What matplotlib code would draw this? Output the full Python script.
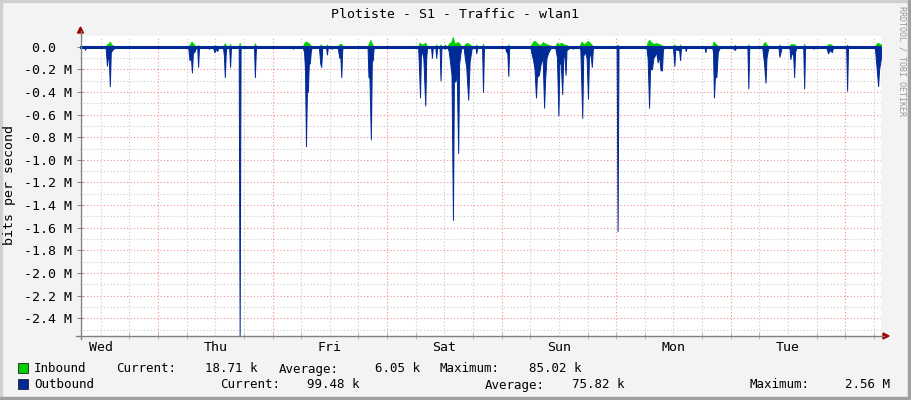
import matplotlib
matplotlib.use('Agg')
import matplotlib.pyplot as plt
from matplotlib.patches import Rectangle, Polygon
from matplotlib.lines import Line2D
import numpy as np

plt.rcParams['font.family'] = 'DejaVu Sans Mono'

# hours since Wed 00:00, traffic in Mbit/s (outbound drawn below zero)
out_hours = [7.7,
             8.5, 8.7, 8.9, 11.2, 11.4, 11.6,
             13.0, 13.3, 13.5, 13.7, 13.9, 14.1, 14.4, 14.7, 15.0,
             20.0, 20.2, 20.4, 24.8, 25.0, 25.2,
             30.3, 30.6, 30.9, 31.1, 31.3, 31.7, 32.0, 32.2, 32.4, 32.6,
             34.5, 34.7, 34.9, 35.5, 35.8, 36.1, 36.4, 36.7,
             37.6, 37.8, 38.0, 38.2, 38.4, 38.9, 39.1, 39.3,
             40.9, 41.1, 41.3, 44.1, 44.3, 44.5, 44.7,
             52.1, 52.3, 52.5,
             54.3, 54.6, 54.8, 55.0, 55.2, 55.4, 55.6, 55.8, 56.0, 56.2,
             57.7, 58.0, 58.2, 58.4, 58.6, 59.2, 59.4, 59.6, 60.1, 60.4, 60.7,
             61.6, 61.8, 62.0, 62.2, 62.4, 62.6, 62.8,
             67.9, 68.1, 68.3, 68.6, 68.8, 69.0, 69.2,
             78.5, 78.7, 78.9, 79.1, 79.3, 79.6, 80.0, 80.2, 80.4,
             81.2, 81.4, 81.6, 82.1, 82.3, 82.5, 83.0, 83.2, 83.4, 83.9, 84.1, 84.3,
             84.6, 84.9, 85.2, 85.5, 85.8, 86.0, 86.3, 86.6, 86.9, 87.1, 87.4, 87.6,
             88.0, 88.3, 88.6, 89.0, 89.3, 89.6, 89.8,
             90.5, 90.7, 90.9, 91.9, 92.1, 92.3,
             96.7, 96.9, 97.2, 97.4, 97.6,
             102.0, 102.2, 102.6, 102.9, 103.2, 103.4, 103.8, 104.2, 104.6, 104.9,
             105.1, 105.4, 105.8, 106.2, 106.5,
             107.2, 107.4, 107.6, 107.9, 108.1, 108.4, 108.7, 108.9, 109.1, 109.4,
             109.6, 110.0, 110.3, 110.6, 110.9, 111.2,
             112.3, 112.5, 112.9, 113.1, 113.5, 113.8, 114.1, 114.3, 114.6, 114.9,
             115.1, 115.3,
             120.1, 120.3, 120.5,
             126.3, 126.6, 126.9, 127.1, 127.5, 127.8, 128.1, 128.4, 128.7, 129.0,
             129.3, 129.6, 129.8, 130.1,
             131.9, 132.2, 132.4, 132.8, 133.2, 133.4, 133.6,
             134.4, 134.6, 134.8, 135.6, 135.8, 136.0, 138.5, 138.7, 138.9,
             140.1, 140.3, 140.5, 140.7, 141.0, 141.3, 141.6, 141.9,
             144.3, 144.6, 144.9, 145.2, 147.5, 147.7, 147.9,
             150.6, 150.8, 151.0, 151.3, 151.5, 151.8, 152.0,
             154.0, 154.2, 154.5, 154.7,
             156.3, 156.5, 156.8, 157.1, 157.3, 157.5, 157.8,
             159.2, 159.4, 159.6, 161.2, 161.4, 161.6,
             163.9, 164.2, 164.4, 164.8, 165.2, 165.5,
             168.2, 168.4, 168.6,
             174.2, 174.5, 174.9, 175.1, 175.5]
out_mbits = [0,
             0, 0.03, 0, 0, 0.01, 0,
             0, 0.17, 0.08, 0.12, 0.35, 0.05, 0.03, 0.02, 0,
             0, 0.01, 0, 0, 0.01, 0,
             0, 0.12, 0.10, 0.23, 0.06, 0.04, 0, 0, 0.18, 0,
             0, 0.02, 0, 0, 0.05, 0.02, 0.04, 0,
             0, 0.08, 0.27, 0.05, 0, 0, 0.18, 0,
             0, 2.56, 0, 0, 0.27, 0.03, 0,
             0, 0.02, 0,
             0, 0.05, 0.20, 0.88, 0.40, 0.40, 0.15, 0.15, 0.05, 0,
             0, 0.15, 0.18, 0.02, 0, 0, 0.07, 0, 0, 0.02, 0,
             0, 0.05, 0.10, 0.08, 0.27, 0.03, 0,
             0, 0.27, 0.27, 0.82, 0.13, 0.12, 0,
             0, 0.20, 0.45, 0.05, 0.05, 0.10, 0.52, 0.10, 0,
             0, 0.10, 0, 0, 0.10, 0, 0, 0.30, 0, 0, 0.02, 0,
             0, 0.04, 0.14, 0.25, 1.53, 0.30, 0.31, 0.25, 0.94, 0.15, 0.05, 0,
             0, 0.10, 0.19, 0.47, 0.13, 0.05, 0,
             0, 0.06, 0, 0, 0.40, 0,
             0, 0.04, 0.06, 0.26, 0,
             0, 0.05, 0.12, 0.20, 0.45, 0.27, 0.25, 0.15, 0.10, 0.54,
             0.30, 0.10, 0.05, 0.02, 0,
             0, 0.05, 0.10, 0.61, 0.15, 0.15, 0.42, 0.10, 0.05, 0.25,
             0.03, 0.02, 0, 0, 0.02, 0,
             0, 0.03, 0.63, 0.08, 0.05, 0.10, 0.46, 0.10, 0.05, 0.18,
             0.03, 0,
             0, 1.63, 0,
             0, 0.10, 0.54, 0.20, 0.20, 0.10, 0.08, 0.05, 0.14, 0.08,
             0.21, 0.21, 0.03, 0,
             0, 0.17, 0.02, 0.03, 0.03, 0.12, 0,
             0, 0.04, 0, 0, 0.01, 0, 0, 0.05, 0,
             0, 0.05, 0.45, 0.27, 0.27, 0.05, 0.02, 0,
             0, 0.02, 0.03, 0, 0, 0.37, 0,
             0, 0.08, 0.15, 0.32, 0.10, 0.03, 0,
             0, 0.09, 0.04, 0,
             0, 0.11, 0.05, 0.08, 0.27, 0.05, 0,
             0, 0.37, 0, 0, 0.02, 0,
             0, 0.03, 0.06, 0.03, 0.05, 0,
             0, 0.39, 0,
             0, 0.15, 0.35, 0.20, 0.10]

in_hours = [7.7, 8.5, 8.7, 8.9,
            13.0, 13.3, 13.7, 13.9, 14.2, 14.6, 15.0,
            30.3, 30.7, 31.0, 31.3, 31.7, 32.0, 32.2, 32.4, 32.6,
            35.5, 35.9, 36.7, 37.6, 38.0, 38.4, 38.9, 39.1, 39.3,
            40.9, 41.1, 41.3, 44.1, 44.3, 44.6,
            54.3, 54.6, 54.9, 55.2, 55.6, 56.0, 56.2,
            57.8, 58.1, 58.4, 59.2, 59.4, 59.6, 61.6, 62.0, 62.4, 62.8,
            67.9, 68.2, 68.5, 68.8, 69.2,
            78.5, 78.8, 79.2, 79.6, 80.0, 80.4,
            82.1, 82.3, 82.5, 83.0, 83.2, 83.4, 83.9, 84.1, 84.3,
            84.6, 85.0, 85.4, 85.8, 86.1, 86.5, 86.9, 87.3, 87.6,
            88.0, 88.4, 88.8, 89.3, 89.8,
            90.5, 90.7, 90.9, 91.9, 92.1, 92.3, 97.2, 97.4, 97.6,
            102.0, 102.4, 102.8, 103.2, 103.7, 104.2, 104.6, 105.0, 105.5, 106.2, 106.5,
            107.2, 107.6, 108.0, 108.5, 109.0, 109.5, 110.3,
            112.3, 112.7, 113.3, 113.8, 114.1, 114.6, 115.0, 115.3,
            120.1, 120.3, 120.5,
            126.3, 126.6, 126.9, 127.3, 127.8, 128.5, 129.2, 130.1,
            131.9, 132.2, 132.5, 133.2, 133.4, 133.6,
            140.1, 140.4, 140.7, 141.1, 141.5,
            144.6, 144.9, 145.2, 147.5, 147.7, 147.9,
            150.6, 150.9, 151.2, 151.5, 152.0,
            154.0, 154.2, 154.4,
            156.3, 156.6, 157.0, 157.4, 157.8,
            159.2, 159.4, 159.6,
            164.0, 164.4, 165.0, 165.5,
            168.2, 168.4, 168.6,
            174.2, 174.6, 175.0, 175.5]
in_mbits = [0, 0, 0.01, 0,
            0, 0.02, 0.03, 0.045, 0.02, 0.01, 0,
            0, 0.02, 0.045, 0.03, 0.01, 0, 0, 0.015, 0,
            0, 0.012, 0, 0, 0.03, 0, 0, 0.025, 0,
            0, 0.035, 0, 0, 0.03, 0,
            0, 0.03, 0.045, 0.04, 0.03, 0.01, 0,
            0, 0.02, 0, 0, 0.02, 0, 0, 0.02, 0.025, 0,
            0, 0.03, 0.06, 0.03, 0,
            0, 0.035, 0.02, 0.02, 0.035, 0,
            0, 0.02, 0, 0, 0.02, 0, 0, 0.02, 0,
            0, 0.03, 0.04, 0.085, 0.03, 0.035, 0.04, 0.02, 0,
            0, 0.025, 0.033, 0.02, 0,
            0, 0.02, 0, 0, 0.025, 0, 0, 0.02, 0,
            0, 0.03, 0.053, 0.04, 0.02, 0.015, 0.04, 0.03, 0.02, 0.01, 0,
            0, 0.035, 0.02, 0.035, 0.02, 0.015, 0,
            0, 0.045, 0.02, 0.04, 0.05, 0.03, 0.01, 0,
            0, 0.02, 0,
            0, 0.04, 0.06, 0.04, 0.025, 0.03, 0.02, 0,
            0, 0.02, 0, 0, 0.02, 0,
            0, 0.045, 0.03, 0.015, 0,
            0, 0.015, 0, 0, 0.02, 0,
            0, 0.03, 0.04, 0.02, 0,
            0, 0.02, 0,
            0, 0.025, 0.02, 0.02, 0,
            0, 0.025, 0,
            0, 0.02, 0.02, 0,
            0, 0.02, 0,
            0, 0.03, 0.03, 0.019]

day_names = ['Wed', 'Thu', 'Fri', 'Sat', 'Sun', 'Mon', 'Tue']
legend_rows = [
    ['Inbound', 'Current:', '18.71 k', 'Average:', '6.05 k', 'Maximum:', '85.02 k'],
    ['Outbound', 'Current:', '99.48 k', 'Average:', '75.82 k', 'Maximum:', '2.56 M'],
]

W, H = 911, 400
c_in = '#00CF00'
c_out = '#002A97'


def fx(px):
    return px / W


def fy(py):
    return 1 - py / H


fig = plt.figure(figsize=(W / 100, H / 100), dpi=100, facecolor='#F3F3F3')
ax = fig.add_axes([fx(80), fy(336), 801 / W, 300 / H])
ax.set_facecolor('white')
x0, x1 = 7.65, 175.5
y0, y1 = -2.555, 0.093
ax.set_xlim(x0, x1)
ax.set_ylim(y0, y1)

# grid, drawn under the data
for h in range(12, 176, 6):
    if h % 24:
        ax.axvline(h, color='#C8C8C8', lw=0.8, ls=(0, (1, 2)), zorder=0)
for k in range(1, 26, 2):
    ax.axhline(-k / 10, color='#C8C8C8', lw=0.8, ls=(0, (1, 2)), zorder=0)
for h in range(24, 176, 24):
    ax.axvline(h, color='#F09090', lw=0.8, ls=(0, (1, 2)), zorder=0.5)
for k in range(1, 13):
    ax.axhline(-k / 5, color='#F09090', lw=0.8, ls=(0, (1, 2)), zorder=0.5)

ax.fill_between(in_hours, 0, in_mbits, facecolor=c_in, edgecolor=c_in, lw=0.5, zorder=2)
ax.fill_between(out_hours, 0, -np.array(out_mbits), facecolor=c_out, edgecolor=c_out,
                lw=0.7, zorder=3)
ax.axhline(0, color=c_out, lw=2.2, zorder=4)

for s in ax.spines.values():
    s.set_visible(False)

yt = [-k / 5 for k in range(0, 13)]
ax.set_yticks(yt, ['0.0  '] + ['%.1f M' % v for v in yt[1:]])
ax.set_xticks([12 + 24 * i for i in range(len(day_names))], day_names)
ax.set_xticks([h for h in range(12, 176, 6)], minor=True)
ax.tick_params(axis='y', length=4, direction='inout', color='#888888', pad=4, labelsize=9.5)
ax.tick_params(axis='x', which='major', length=0, pad=3.5, labelsize=9.5)
ax.tick_params(axis='x', which='minor', length=4, direction='inout', color='#AAAAAA')

# axis lines with the little red arrows
fig.add_artist(Line2D([fx(80.5), fx(80.5)], [fy(339), fy(31)], color='#808080', lw=1))
fig.add_artist(Line2D([fx(76), fx(884)], [fy(336), fy(336)], color='#808080', lw=1))
fig.add_artist(Polygon([[fx(77.5), fy(33)], [fx(83.5), fy(33)], [fx(80.5), fy(27)]],
                       closed=True, color='#A00000', transform=fig.transFigure))
fig.add_artist(Polygon([[fx(883), fy(333)], [fx(883), fy(339)], [fx(889), fy(336)]],
                       closed=True, color='#A00000', transform=fig.transFigure))

fig.text(fx(455), fy(14), 'Plotiste - S1 - Traffic - wlan1', ha='center', va='center', fontsize=9.5)
fig.text(fx(10), fy(185), 'bits per second', rotation=90, ha='center', va='center', fontsize=9.5)
fig.text(fx(902), fy(6), 'RRDTOOL / TOBI OETIKER', rotation=270, ha='center', va='top',
         fontsize=6, color='#999999')

# legend
lx = [[34, 116, 205, 279, 375, 440, 529],
      [34, 220, 307, 485, 572, 750, 845]]
for row, (words, xs, col, yy) in enumerate(zip(legend_rows, lx, [c_in, c_out], [368, 384])):
    fig.add_artist(Rectangle((fx(17.5), fy(yy + 5)), 10 / W, 10 / H, facecolor=col,
                             edgecolor='#222222', lw=0.6, transform=fig.transFigure))
    for w, px in zip(words, xs):
        fig.text(fx(px), fy(yy + 4.5), w, ha='left', va='baseline', fontsize=9)

# image border
fig.add_artist(Rectangle((0, fy(2)), 1, 2 / H, color='#D0D0D0', transform=fig.transFigure))
fig.add_artist(Rectangle((0, 0), 2 / W, 1, color='#D0D0D0', transform=fig.transFigure))
fig.add_artist(Rectangle((fx(908), 0), 3 / W, 1, color='#A0A0A0', transform=fig.transFigure))
fig.add_artist(Rectangle((0, 0), 1, 3 / H, color='#A0A0A0', transform=fig.transFigure))

fig.savefig('out.png', dpi=100, facecolor=fig.get_facecolor())
